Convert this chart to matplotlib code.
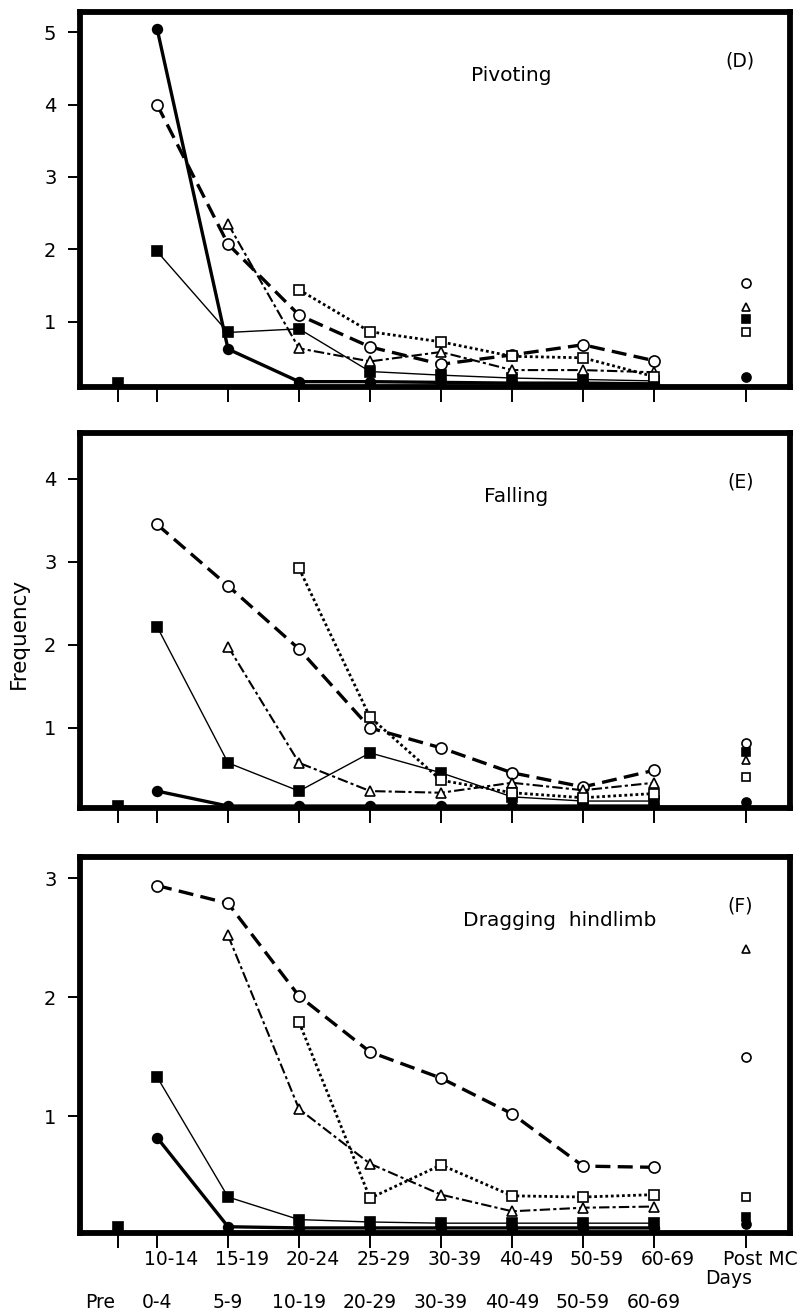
import matplotlib
matplotlib.use('Agg')
import matplotlib.pyplot as plt
import matplotlib.transforms as mtransforms
import numpy as np

nan = np.nan

# x categories (Pre, ten age groups in days, Post MC)
categories = ['Pre', '10-14', '15-19', '20-24', '25-29', '30-39',
              '40-49', '50-59', '60-69', 'Post MC']
second_row = ['Pre', '0-4', '5-9', '10-19', '20-29', '30-39',
              '40-49', '50-59', '60-69']
x_pos = np.array([0.45, 1, 2, 3, 4, 5, 6, 7, 8, 9.3])

# values per panel: Pre, 10-14 ... 60-69, Post MC
# (D) Pivoting
piv_fcirc = [nan, 5.05, 0.62, 0.17, 0.17, 0.16, 0.15, 0.15, 0.14, 0.24]
piv_ocirc = [nan, 4.00, 2.07, 1.09, 0.65, 0.41, 0.54, 0.68, 0.46, 1.53]
piv_fsq = [0.15, 1.97, 0.85, 0.90, 0.31, 0.26, 0.22, 0.20, 0.18, 1.04]
piv_otri = [nan, nan, 2.35, 0.63, 0.45, 0.58, 0.33, 0.33, 0.30, 1.20]
piv_osq = [nan, nan, nan, 1.44, 0.86, 0.72, 0.52, 0.50, 0.24, 0.86]

# (E) Falling
fal_fcirc = [nan, 0.24, 0.06, 0.06, 0.06, 0.06, 0.06, 0.06, 0.06, 0.11]
fal_ocirc = [nan, 3.45, 2.71, 1.95, 1.00, 0.76, 0.46, 0.29, 0.49, 0.82]
fal_fsq = [0.06, 2.22, 0.58, 0.24, 0.70, 0.46, 0.17, 0.12, 0.12, 0.71]
fal_otri = [nan, nan, 1.98, 0.58, 0.24, 0.22, 0.34, 0.25, 0.34, 0.61]
fal_osq = [nan, nan, nan, 2.92, 1.13, 0.37, 0.22, 0.16, 0.21, 0.41]

# (F) Dragging hindlimb
drg_fcirc = [nan, 0.82, 0.07, 0.06, 0.06, 0.06, 0.06, 0.06, 0.06, 0.09]
drg_ocirc = [nan, 2.94, 2.79, 2.01, 1.54, 1.32, 1.02, 0.58, 0.57, 1.50]
drg_fsq = [0.07, 1.33, 0.32, 0.13, 0.11, 0.10, 0.10, 0.10, 0.10, 0.15]
drg_otri = [nan, nan, 2.52, 1.06, 0.60, 0.34, 0.20, 0.23, 0.24, 2.41]
drg_osq = [nan, nan, nan, 1.79, 0.31, 0.59, 0.33, 0.32, 0.34, 0.32]

panels = [
    ('Pivoting', 0.608, '(D)', (0.097, 5.28), [1, 2, 3, 4, 5],
     [piv_fcirc, piv_ocirc, piv_fsq, piv_otri, piv_osq]),
    ('Falling', 0.614, '(E)', (0.036, 4.55), [1, 2, 3, 4],
     [fal_fcirc, fal_ocirc, fal_fsq, fal_otri, fal_osq]),
    ('Dragging  hindlimb', 0.676, '(F)', (0.017, 3.18), [1, 2, 3],
     [drg_fcirc, drg_ocirc, drg_fsq, drg_otri, drg_osq]),
]

# line style for each group: filled circle, open circle, filled square,
# open triangle, open square
styles = [
    dict(marker='o', mfc='black', ms=7, lw=2.4, ls='-'),
    dict(marker='o', mfc='white', ms=8, lw=2.4, dashes=(4.5, 2.2)),
    dict(marker='s', mfc='black', ms=6.5, lw=1.0, ls='-'),
    dict(marker='^', mfc='white', ms=6.5, lw=1.5, dashes=(5, 1.5, 1.5, 1.5)),
    dict(marker='s', mfc='white', ms=6.5, lw=2.0, dashes=(1, 1)),
]
post_ms = [6.5, 6.5, 5.5, 5.5, 5.5]

fig = plt.figure(figsize=(8.01, 13.13), dpi=100)
rects = [(0.0999, 0.7053, 0.8864, 0.2856),
         (0.0999, 0.3846, 0.8864, 0.2856),
         (0.0999, 0.0609, 0.8864, 0.2864)]

fs = 13.5
for (title, tx, tag, ylim, yticks, series), rect in zip(panels, rects):
    ax = fig.add_axes(rect)
    for vals, st, pms in zip(series, styles, post_ms):
        vals = np.array(vals, dtype=float)
        main = slice(1, 9)
        ax.plot(x_pos[main], vals[main], color='black', mec='black',
                mew=1.2, **st, zorder=3)
        # isolated Pre and Post markers
        for i in (0, 9):
            if not np.isnan(vals[i]):
                ax.plot(x_pos[i], vals[i], ls='none', marker=st['marker'],
                        mfc=st['mfc'], mec='black', mew=1.2,
                        ms=(7 if i == 0 else pms), zorder=3)
    ax.set_xlim(-0.085, 9.915)
    ax.set_ylim(*ylim)
    ax.set_yticks(yticks)
    ax.set_yticklabels([str(t) for t in yticks], fontsize=fs + 0.5)
    ax.set_xticks(x_pos)
    ax.set_xticklabels([])
    ax.tick_params(axis='x', direction='out', length=11, width=1.4,
                   color='black')
    ax.tick_params(axis='y', direction='out', length=9, width=1.4,
                   pad=8, color='black')
    for sp in ax.spines.values():
        sp.set_linewidth(4.2)
    ax.text(tx, 0.83, title, transform=ax.transAxes, ha='center',
            va='center', fontsize=fs + 1)
    ax.text(0.93, 0.87, tag, transform=ax.transAxes, ha='center',
            va='center', fontsize=fs)
    last = ax

# bottom panel: two rows of age labels
shift = mtransforms.ScaledTranslation(10 / 72, 0, fig.dpi_scale_trans)
last.set_xticklabels([''] + categories[1:], fontsize=fs)
last.tick_params(axis='x', pad=1)
for lab in last.get_xticklabels():
    lab.set_transform(lab.get_transform() + shift)

row2 = mtransforms.blended_transform_factory(last.transData, fig.transFigure)
row2_x = [0.2] + list(x_pos[1:9])
for x, lab in zip(row2_x, second_row):
    last.text(x, 1 - 1303 / 1313, lab, transform=row2, ha='center',
              va='center', fontsize=fs)
last.text(9.05, 1 - 1279 / 1313, 'Days', transform=row2,
          ha='center', va='center', fontsize=fs)

fig.text(0.024, 1 - 633 / 1313, 'Frequency', rotation=90, ha='center',
         va='center', fontsize=fs + 2)

fig.savefig('out.png', dpi=100)
